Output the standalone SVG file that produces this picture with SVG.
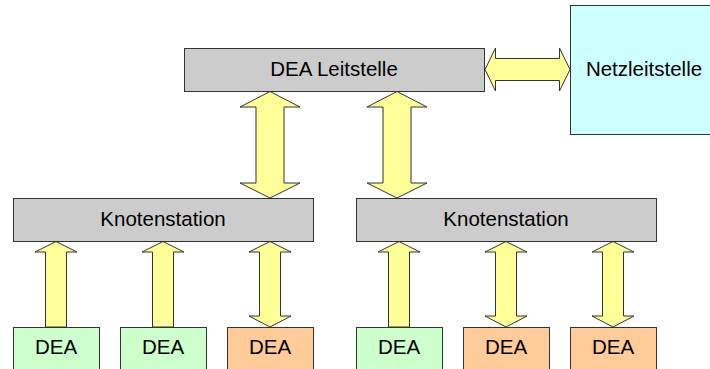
<svg xmlns="http://www.w3.org/2000/svg" width="710" height="369" viewBox="0 0 710 369">
<style>
.box{stroke:#333;stroke-width:1}
.grey{fill:#cccccc}
.cyan{fill:#ccffff}
.green{fill:#ccffcc}
.orange{fill:#ffcc99}
.arr{fill:#ffff99;stroke:#333;stroke-width:1;stroke-linejoin:miter}
text{font-family:"Liberation Sans",Arial,sans-serif;font-size:20.5px;fill:#000;text-anchor:middle}
</style>
<rect width="710" height="369" fill="#fff"/>
<g id="connectors">
<!-- horizontal double arrow -->
<path class="arr" d="M485,69.5 L495.5,48 L495.5,58.5 L559.5,58.5 L559.5,48 L570,69.5 L559.5,91 L559.5,80.5 L495.5,80.5 L495.5,91 Z"/>
<!-- upper vertical double arrows -->
<path class="arr" d="M270,91.5 L300,107 L284,107 L284,183 L300,183 L270,198 L240,183 L256,183 L256,107 L240,107 Z"/>
<path class="arr" d="M397,91.5 L427,107 L411,107 L411,183 L427,183 L397,198 L367,183 L383,183 L383,107 L367,107 Z"/>
<!-- lower left group -->
<path class="arr" d="M56,241.5 L77,252 L66.5,252 L66.5,327 L45.5,327 L45.5,252 L35,252 Z"/>
<path class="arr" d="M163,241.5 L184,252 L173.5,252 L173.5,327 L152.5,327 L152.5,252 L142,252 Z"/>
<path class="arr" d="M270,241.5 L291,252 L280.5,252 L280.5,316 L291,316 L270,327 L249,316 L259.5,316 L259.5,252 L249,252 Z"/>
<!-- lower right group -->
<path class="arr" d="M399,241.5 L420,252 L409.5,252 L409.5,327 L388.5,327 L388.5,252 L378,252 Z"/>
<path class="arr" d="M506,241.5 L527,252 L516.5,252 L516.5,316 L527,316 L506,327 L485,316 L495.5,316 L495.5,252 L485,252 Z"/>
<path class="arr" d="M613,241.5 L634,252 L623.5,252 L623.5,316 L634,316 L613,327 L592,316 L602.5,316 L602.5,252 L592,252 Z"/>
</g>
<g id="dea-leitstelle">
<rect class="box grey" x="184.5" y="48.5" width="300" height="43"/>
<text x="334" y="76">DEA Leitstelle</text>
</g>
<g id="netzleitstelle">
<rect class="box cyan" x="570.5" y="5.5" width="150" height="129"/>
<text x="644" y="76">Netzleitstelle</text>
</g>
<g id="knotenstation-1">
<rect class="box grey" x="13.5" y="198.5" width="300" height="43"/>
<text x="163" y="226">Knotenstation</text>
</g>
<g id="knotenstation-2">
<rect class="box grey" x="356.5" y="198.5" width="300" height="43"/>
<text x="506" y="226">Knotenstation</text>
</g>
<g id="dea-1">
<rect class="box green" x="13.5" y="327.5" width="86" height="50"/>
<text x="56" y="354">DEA</text>
</g>
<g id="dea-2">
<rect class="box green" x="120.5" y="327.5" width="86" height="50"/>
<text x="163" y="354">DEA</text>
</g>
<g id="dea-3">
<rect class="box orange" x="227.5" y="327.5" width="86" height="50"/>
<text x="270" y="354">DEA</text>
</g>
<g id="dea-4">
<rect class="box green" x="356.5" y="327.5" width="86" height="50"/>
<text x="399" y="354">DEA</text>
</g>
<g id="dea-5">
<rect class="box orange" x="463.5" y="327.5" width="86" height="50"/>
<text x="506" y="354">DEA</text>
</g>
<g id="dea-6">
<rect class="box orange" x="570.5" y="327.5" width="86" height="50"/>
<text x="613" y="354">DEA</text>
</g>
</svg>
